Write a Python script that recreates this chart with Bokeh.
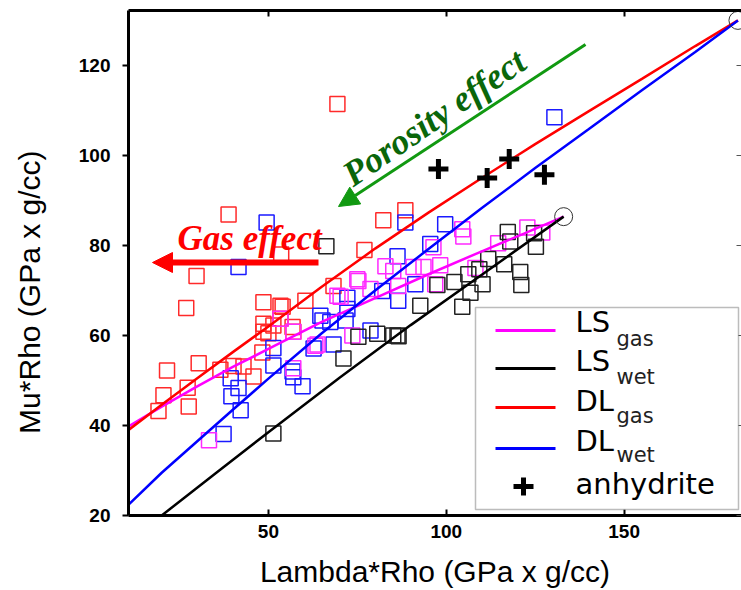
from bokeh.plotting import figure
from bokeh.models import LinearAxis, FixedTicker, Label, Arrow, NormalHead, BoxAnnotation
from bokeh.embed import file_html
from bokeh.resources import INLINE

# ---------------- data ----------------
x_ticks = [50, 100, 150]
y_ticks = [20, 40, 60, 80, 100, 120]

# trend curves
dl_gas_x = [10.7, 20, 30, 40, 50, 65, 80, 95, 110, 125, 140, 155, 170, 182]
dl_gas_y = [39.0, 44.6, 50.5, 56.3, 62.0, 70.8, 79.3, 87.3, 95.0, 102.5, 109.8, 117.0, 124.3, 130.0]
dl_wet_x = [10.7, 20, 30, 40, 50, 65, 80, 95, 110, 125, 140, 155, 170, 182]
dl_wet_y = [22.4, 29.5, 36.5, 43.5, 50.4, 60.5, 70.0, 79.2, 88.3, 97.2, 105.8, 114.5, 123.0, 130.0]
ls_wet_x = [20, 35, 50, 70, 90, 110, 133]
ls_wet_y = [20.0, 29.3, 38.5, 50.6, 62.3, 73.5, 86.4]
ls_gas_x = [10.7, 20, 30, 40, 50, 65, 80, 95, 110, 122, 133]
ls_gas_y = [39.8, 44.2, 48.7, 53.0, 57.0, 63.0, 68.3, 73.6, 78.7, 82.7, 86.4]

# measured samples
red_x = [69.4, 38.8, 29.8, 26.9, 21.5, 30.4, 36.5, 40.2, 43.0, 45.8, 20.5, 27.3, 19.1, 27.6,
         48.3, 48.6, 48.6, 48.6, 51.4, 54.0, 53.4, 56.8, 57.0, 60.4, 68.3, 77.0, 82.3, 88.5,
         53.6, 53.4, 50.0]
red_y = [111.4, 86.9, 73.2, 66.1, 52.2, 53.8, 52.4, 53.2, 53.1, 50.9, 46.7, 48.4, 43.2, 44.2,
         56.2, 60.8, 62.6, 67.4, 62.2, 66.4, 63.7, 61.9, 60.8, 67.7, 71.0, 79.0, 85.6, 87.8,
         78.0, 66.6, 60.5]
blue_x = [49.5, 41.6, 130.4, 88.5, 99.7, 95.5, 86.3, 91.3, 86.5, 82.0, 72.2, 72.2, 64.6, 65.2,
          67.4, 71.7, 78.7, 62.7, 68.3, 51.4, 56.8, 57.0, 59.6, 51.4, 39.4, 41.6, 39.6, 42.2, 37.4]
blue_y = [85.1, 75.2, 108.5, 85.1, 84.7, 80.3, 77.6, 71.4, 67.7, 69.9, 68.4, 65.9, 64.4, 63.3,
          63.0, 63.3, 61.1, 57.1, 58.0, 57.2, 52.0, 50.7, 48.7, 53.3, 50.5, 48.3, 46.5, 43.4, 38.1]
magenta_x = [104.5, 104.8, 96.4, 98.3, 93.6, 96.9, 108.2, 114.6, 122.8, 127.0, 90.8, 82.9, 85.1,
             75.3, 78.7, 69.4, 86.5, 73.6, 63.8, 57.0, 57.0, 53.4, 63.2, 75.0, 70.3, 33.3]
magenta_y = [83.6, 82.0, 79.6, 75.6, 75.2, 71.4, 75.0, 80.5, 84.0, 82.9, 75.2, 75.4, 74.3,
             72.1, 70.3, 68.8, 71.0, 60.0, 58.0, 52.7, 60.8, 63.7, 57.7, 72.5, 68.6, 36.7]
black_x = [66.3, 51.4, 71.1, 75.3, 80.6, 85.1, 86.3, 86.6, 92.7, 97.5, 102.3, 104.5, 106.8, 106.2,
           109.3, 110.2, 111.8, 116.3, 117.3, 118.0, 120.8, 121.1, 125.2, 124.7]
black_y = [79.8, 38.2, 54.9, 59.7, 60.4, 60.0, 60.0, 59.8, 66.6, 71.2, 71.9, 66.4, 69.5, 73.6,
           74.7, 71.4, 77.0, 75.8, 83.0, 80.9, 74.1, 71.2, 79.7, 82.7]
anhydrite_x = [97.8, 111.5, 117.7, 127.6]
anhydrite_y = [97.0, 95.0, 99.2, 95.7]

end_x = [ls_wet_x[-1], dl_wet_x[-1]]
end_y = [ls_wet_y[-1], dl_wet_y[-1]]

# ---------------- figure ----------------
W, H = 741, 590
FL, FB = 128, 517   # frame left / bottom in page pixels (layout)

def sx(px):
    return px - FL

def sy(py):
    return FB - py

p = figure(width=W, height=H, x_range=(10.67, 183.0), y_range=(20, 132.2),
           output_backend="svg", toolbar_location=None,
           min_border_left=128, min_border_right=0, min_border_top=10, min_border_bottom=73)
p.outline_line_color = None
p.xgrid.visible = False
p.ygrid.visible = False
p.background_fill_color = "white"
p.border_fill_color = "white"

tick_font = "Liberation Sans"
for ax in p.xaxis + p.yaxis:
    ax.axis_line_width = 3
    ax.major_tick_line_width = 2
    ax.minor_tick_line_color = None
    ax.major_label_text_font = tick_font
    ax.major_label_text_font_style = "bold"
    ax.major_label_text_font_size = "19px"
    ax.major_label_text_color = "black"
    ax.axis_label_text_font = tick_font
    ax.axis_label_text_font_style = "normal"
    ax.axis_label_text_font_size = "30px"
    ax.axis_label_text_color = "black"

p.xaxis.ticker = FixedTicker(ticks=x_ticks, minor_ticks=[])
p.yaxis.ticker = FixedTicker(ticks=y_ticks, minor_ticks=[])
p.xaxis.major_tick_in = 6
p.xaxis.major_tick_out = 0
p.xaxis.major_label_standoff = 9
p.xaxis.axis_label = "Lambda*Rho (GPa x g/cc)"
p.xaxis.axis_label_standoff = 14
p.yaxis.major_tick_in = 0
p.yaxis.major_tick_out = 6
p.yaxis.major_label_standoff = 12
# trailing no-break spaces push the visible title lower, as in the original
p.yaxis.axis_label = "Mu*Rho (GPa x g/cc)" + "\u00a0" * 7
p.yaxis.axis_label_standoff = 30

top_ax = LinearAxis(ticker=FixedTicker(ticks=x_ticks, minor_ticks=[]),
                    major_label_text_color=None, major_label_standoff=0,
                    major_tick_in=6, major_tick_out=0, axis_line_width=3,
                    major_tick_line_width=2, minor_tick_line_color=None)
p.add_layout(top_ax, "above")
right_ax = LinearAxis(ticker=FixedTicker(ticks=y_ticks, minor_ticks=[]),
                      major_label_text_color=None, major_label_standoff=0,
                      major_tick_in=5, major_tick_out=0, axis_line_color=None,
                      major_tick_line_width=1, major_tick_line_color="#555555",
                      minor_tick_line_color=None)
p.add_layout(right_ax, "right")

# samples
sq = dict(marker="square", size=15, fill_color=None, line_width=1.5)
p.scatter(red_x, red_y, line_color="#ff2a2a", **sq)
p.scatter(blue_x, blue_y, line_color="#1a1aff", **sq)
p.scatter(magenta_x, magenta_y, line_color="#ff2aff", **sq)
p.scatter(black_x, black_y, line_color="#222222", **sq)

# trend lines
p.line(ls_gas_x, ls_gas_y, line_color="#ff00ff", line_width=2.5)
p.line(ls_wet_x, ls_wet_y, line_color="black", line_width=2.5)
p.line(dl_gas_x, dl_gas_y, line_color="#ff0000", line_width=2.5)
p.line(dl_wet_x, dl_wet_y, line_color="#0000ff", line_width=2.5)

p.scatter(end_x, end_y, marker="circle", size=18, fill_color=None, line_color="#333333", line_width=1)
p.scatter(anhydrite_x, anhydrite_y, marker="cross", size=20, line_color="black", line_width=5)

# annotations
p.add_layout(Arrow(x_start=sx(318), y_start=sy(264), x_end=sx(152), y_end=sy(264),
                   start_units="screen", end_units="screen", line_color="red", line_width=6,
                   end=NormalHead(size=20, fill_color="red", line_color="red")))
p.add_layout(Label(x=sx(177), y=sy(240), x_units="screen", y_units="screen", text="Gas effect",
                   text_font="Liberation Serif", text_font_style="bold italic",
                   text_font_size="35px", text_color="red", text_baseline="middle"))
p.add_layout(Arrow(x_start=sx(585), y_start=sy(46), x_end=sx(338), y_end=sy(208),
                   start_units="screen", end_units="screen", line_color="#119911", line_width=3,
                   end=NormalHead(size=20, fill_color="#119911", line_color="#119911")))
p.add_layout(Label(x=sx(346), y=sy(179), x_units="screen", y_units="screen", text="Porosity effect",
                   angle=0.6, text_font="Liberation Serif", text_font_style="bold italic",
                   text_font_size="36px", text_color="#0a660a", text_baseline="middle"))

# legend (drawn by hand for subscripts)
p.add_layout(BoxAnnotation(left=sx(475), right=sx(738), top=sy(309), bottom=sy(511),
                           left_units="screen", right_units="screen", top_units="screen",
                           bottom_units="screen", fill_color="white", fill_alpha=1,
                           line_color="#222222", line_width=1.5))
leg_font = "DejaVu Sans"
legend_rows = [("LS", "gas", "#ff00ff", 332, 323, 340),
               ("LS", "wet", "black", 370, 362, 378),
               ("DL", "gas", "#ff0000", 409, 402, 417),
               ("DL", "wet", "#0000ff", 450, 442, 456)]
for main, sub, col, ly, mid, submid in legend_rows:
    p.add_layout(Arrow(x_start=sx(495), y_start=sy(ly), x_end=sx(555), y_end=sy(ly),
                       start_units="screen", end_units="screen", line_color=col, line_width=3,
                       end=None))
    p.add_layout(Label(x=sx(575), y=sy(mid), x_units="screen", y_units="screen", text=main,
                       text_font=leg_font, text_font_size="29px", text_color="black",
                       text_baseline="middle"))
    p.add_layout(Label(x=sx(616), y=sy(submid), x_units="screen", y_units="screen", text=sub,
                       text_font=leg_font, text_font_size="21px", text_color="#222222",
                       text_baseline="middle"))
p.add_layout(Arrow(x_start=sx(513), y_start=sy(488), x_end=sx(533), y_end=sy(488),
                   start_units="screen", end_units="screen", line_color="black", line_width=5, end=None))
p.add_layout(Arrow(x_start=sx(523), y_start=sy(479), x_end=sx(523), y_end=sy(497),
                   start_units="screen", end_units="screen", line_color="black", line_width=5, end=None))
p.add_layout(Label(x=sx(575), y=sy(485), x_units="screen", y_units="screen", text="anhydrite",
                   text_font=leg_font, text_font_size="29px", text_color="black",
                   text_baseline="middle"))

open("out.html", "w").write(file_html(p, INLINE))
